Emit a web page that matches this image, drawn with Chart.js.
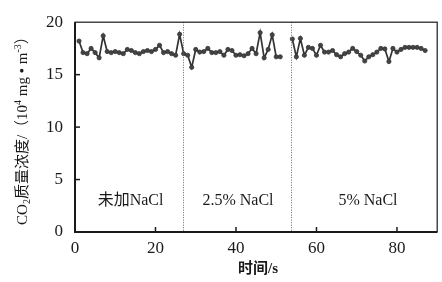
<!DOCTYPE html>
<html>
<head>
<meta charset="utf-8">
<script src="https://cdn.jsdelivr.net/npm/chart.js@4"></script>
<style>
  html, body { margin: 0; padding: 0; background: #fff; }
  #wrap { width: 442px; height: 282px; }
</style>
</head>
<body>
<div id="wrap"><canvas id="co2Chart" width="442" height="282"></canvas></div>
<script>
// time (s) and CO2 concentration (10^4 mg/m^3)
const timeA = [1, 2, 3, 4, 5, 6, 7, 8, 9, 10, 11, 12, 13, 14, 15, 16, 17, 18, 19, 20, 21, 22, 23, 24, 25, 26,
    27, 28, 29, 30, 31, 32, 33, 34, 35, 36, 37, 38, 39, 40, 41, 42, 43, 44, 45, 46, 47, 48, 49, 50, 51];
const co2A = [18.2, 17.1, 17.0, 17.5, 17.1, 16.6, 18.7, 17.2, 17.1, 17.2, 17.1, 17.0, 17.4, 17.3, 17.1, 17.0,
    17.2, 17.3, 17.2, 17.4, 17.8, 17.1, 17.2, 17.0, 16.85, 18.85,
    17.0, 16.85, 15.7, 17.4, 17.15, 17.2, 17.5, 17.1, 17.1, 17.2, 16.85, 17.4, 17.3, 16.85, 16.9, 16.8, 17.0,
    17.5, 17.0, 19.0, 16.6, 17.4, 18.8, 16.7, 16.7];
const timeB = [54, 55, 56, 57, 58, 59, 60, 61, 62, 63, 64, 65, 66, 67, 68, 69, 70, 71, 72, 73, 74, 75, 76, 77,
    78, 79, 80, 81, 82, 83, 84, 85, 86, 87];
const co2B = [18.4, 16.7, 18.45, 16.85, 17.6, 17.5, 16.85, 17.8, 17.15, 17.15, 17.3, 16.9, 16.7, 17.0, 17.15,
    17.5, 17.2, 16.85, 16.3, 16.7, 16.9, 17.15, 17.5, 17.45, 16.25, 17.5, 17.15, 17.4, 17.6, 17.6, 17.6, 17.6,
    17.5, 17.3];

// phase boundaries and labels
const dividers = [26.8, 53.6];
const phaseLabels = ['未加NaCl', '2.5% NaCl', '5% NaCl'];
const phaseLabelX = [13.8, 40.5, 72.8];
const phaseLabelY = 3.0;

const serif = '"Liberation Serif", "DejaVu Serif", "Noto Sans CJK SC", serif';
const ink = '#1a1a1a';

function toPoints(xs, ys) {
    return xs.map((x, i) => ({ x: x, y: ys[i] }));
}

const lineStyle = {
    borderColor: '#333',
    borderWidth: 1.7,
    pointRadius: 2.1,
    pointBackgroundColor: '#444',
    pointBorderColor: '#333',
    pointBorderWidth: 0.8,
    tension: 0
};

// box, inward ticks, dividers, text
const decorations = {
    id: 'decorations',
    afterDatasetsDraw(chart) {
        const ctx = chart.ctx;
        const area = chart.chartArea;
        const xs = chart.scales.x;
        const ys = chart.scales.y;
        ctx.save();

        // dotted dividers
        ctx.strokeStyle = '#666';
        ctx.lineWidth = 1;
        ctx.setLineDash([1, 1.5]);
        dividers.forEach(v => {
            const px = Math.round(xs.getPixelForValue(v)) + 0.5;
            ctx.beginPath();
            ctx.moveTo(px, area.top);
            ctx.lineTo(px, area.bottom);
            ctx.stroke();
        });
        ctx.setLineDash([]);

        // frame
        ctx.strokeStyle = ink;
        ctx.lineWidth = 1.2;
        ctx.strokeRect(area.left, area.top, area.right - area.left, area.bottom - area.top);
        ctx.lineWidth = 2;
        ctx.beginPath();
        ctx.moveTo(area.left, area.top);
        ctx.lineTo(area.left, area.bottom);
        ctx.lineTo(area.right, area.bottom);
        ctx.stroke();

        // inward ticks
        ctx.lineWidth = 1.5;
        xs.ticks.forEach(t => {
            if (t.value <= xs.min || t.value >= xs.max) return;
            const px = xs.getPixelForValue(t.value);
            ctx.beginPath();
            ctx.moveTo(px, area.bottom);
            ctx.lineTo(px, area.bottom - 5);
            ctx.stroke();
        });
        ys.ticks.forEach(t => {
            if (t.value <= ys.min || t.value >= ys.max) return;
            const py = ys.getPixelForValue(t.value);
            ctx.beginPath();
            ctx.moveTo(area.left, py);
            ctx.lineTo(area.left + 5, py);
            ctx.stroke();
        });

        // phase labels
        ctx.fillStyle = ink;
        ctx.font = '16px ' + serif;
        ctx.textAlign = 'center';
        ctx.textBaseline = 'middle';
        phaseLabels.forEach((txt, i) => {
            ctx.fillText(txt, xs.getPixelForValue(phaseLabelX[i]), ys.getPixelForValue(phaseLabelY));
        });

        // x title
        ctx.font = 'bold 15px ' + serif;
        ctx.fillText('时间/s', (area.left + area.right) / 2 + 2, 269);

        // y title with sub/superscripts
        const parts = [
            { t: 'CO', size: 15, dy: 0 },
            { t: '2', size: 10, dy: 3 },
            { t: '质量浓度/（10', size: 15, dy: 0 },
            { t: '4', size: 10, dy: -6 },
            { t: ' mg • m', size: 15, dy: 0 },
            { t: '-3', size: 10, dy: -6 },
            { t: '）', size: 15, dy: 0 }
        ];
        let total = 0;
        parts.forEach(p => {
            ctx.font = p.size + 'px ' + serif;
            p.w = ctx.measureText(p.t).width;
            total += p.w;
        });
        ctx.translate(22, (area.top + area.bottom) / 2);
        ctx.rotate(-Math.PI / 2);
        ctx.textAlign = 'left';
        ctx.textBaseline = 'alphabetic';
        let cx = -total / 2;
        parts.forEach(p => {
            ctx.font = p.size + 'px ' + serif;
            ctx.fillText(p.t, cx, 5 + p.dy);
            cx += p.w;
        });
        ctx.restore();
    }
};

new Chart(document.getElementById('co2Chart'), {
    type: 'line',
    data: {
        datasets: [
            Object.assign({ label: 'A', data: toPoints(timeA, co2A) }, lineStyle),
            Object.assign({ label: 'B', data: toPoints(timeB, co2B) }, lineStyle)
        ]
    },
    options: {
        responsive: false,
        animation: false,
        layout: { padding: { top: 16, right: 2, left: 0, bottom: 0 } },
        scales: {
            x: {
                type: 'linear',
                min: 0,
                max: 90,
                grid: { display: false, drawTicks: false },
                border: { display: false },
                ticks: {
                    stepSize: 20,
                    includeBounds: false,
                    maxRotation: 0,
                    padding: 6,
                    color: ink,
                    font: { family: serif, size: 17 }
                },
                afterFit(scale) { scale.height = 50; }
            },
            y: {
                min: 0,
                max: 20,
                grid: { display: false, drawTicks: false },
                border: { display: false },
                ticks: {
                    stepSize: 5,
                    padding: 12,
                    color: ink,
                    font: { family: serif, size: 17 }
                },
                afterFit(scale) { scale.width = 75; }
            }
        },
        plugins: {
            legend: { display: false },
            tooltip: { enabled: false }
        }
    },
    plugins: [decorations]
});
</script>
</body>
</html>
